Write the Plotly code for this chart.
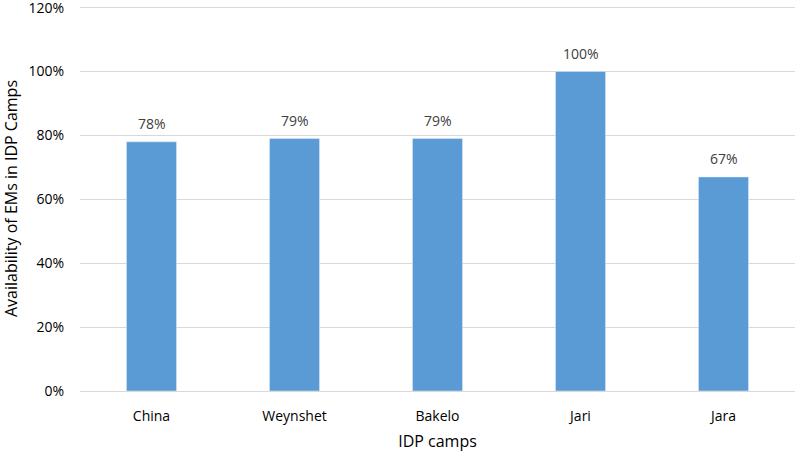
import plotly.graph_objects as go

camps = ["China", "Weynshet", "Bakelo", "Jari", "Jara"]
availability = [0.78, 0.79, 0.79, 1.00, 0.67]
y_ticks = [0, 0.2, 0.4, 0.6, 0.8, 1.0, 1.2]
y_tick_labels = ["0%", "20%", "40%", "60%", "80%", "100%", "120%"]

font_family = "'Open Sans', sans-serif"

fig = go.Figure(
    go.Bar(
        x=camps,
        y=availability,
        marker=dict(color="#5B9BD5"),
    )
)

# value labels sit a bit higher above the bars than plotly's "outside" text
for camp, val in zip(camps, availability):
    fig.add_annotation(
        x=camp, y=val,
        text=f"{val:.0%}",
        showarrow=False,
        yanchor="middle",
        yshift=18,
        font=dict(color="#404040", size=14),
    )

fig.update_layout(
    width=795,
    height=453,
    margin=dict(l=80, r=0, t=6, b=62, autoexpand=False),
    plot_bgcolor="white",
    paper_bgcolor="white",
    font=dict(family=font_family, size=14, color="#000000"),
    bargap=0.65,
    showlegend=False,
)

fig.update_xaxes(
    title=dict(text="IDP camps", font=dict(size=16), standoff=12),
    showline=True,
    linecolor="#D9D9D9",
    linewidth=1,
    ticks="",
    ticklabelstandoff=12,
    automargin=False,
)

# a little headroom above 120% so its gridline is not clipped at the edge
fig.update_yaxes(
    title=dict(text="Availability of EMs in IDP Camps", font=dict(size=16), standoff=16),
    range=[0, 1.205],
    tickvals=y_ticks,
    ticktext=y_tick_labels,
    showgrid=True,
    gridcolor="#D9D9D9",
    gridwidth=1,
    zeroline=False,
    ticks="",
    ticklabelstandoff=15,
    ticklabeloverflow="allow",
    automargin=False,
)

# page has a default 8px body margin; drop it so the chart sits at the top-left
fig.write_html(
    "out.html",
    config={"displayModeBar": False},
    post_script="document.body.style.margin='0';",
)
